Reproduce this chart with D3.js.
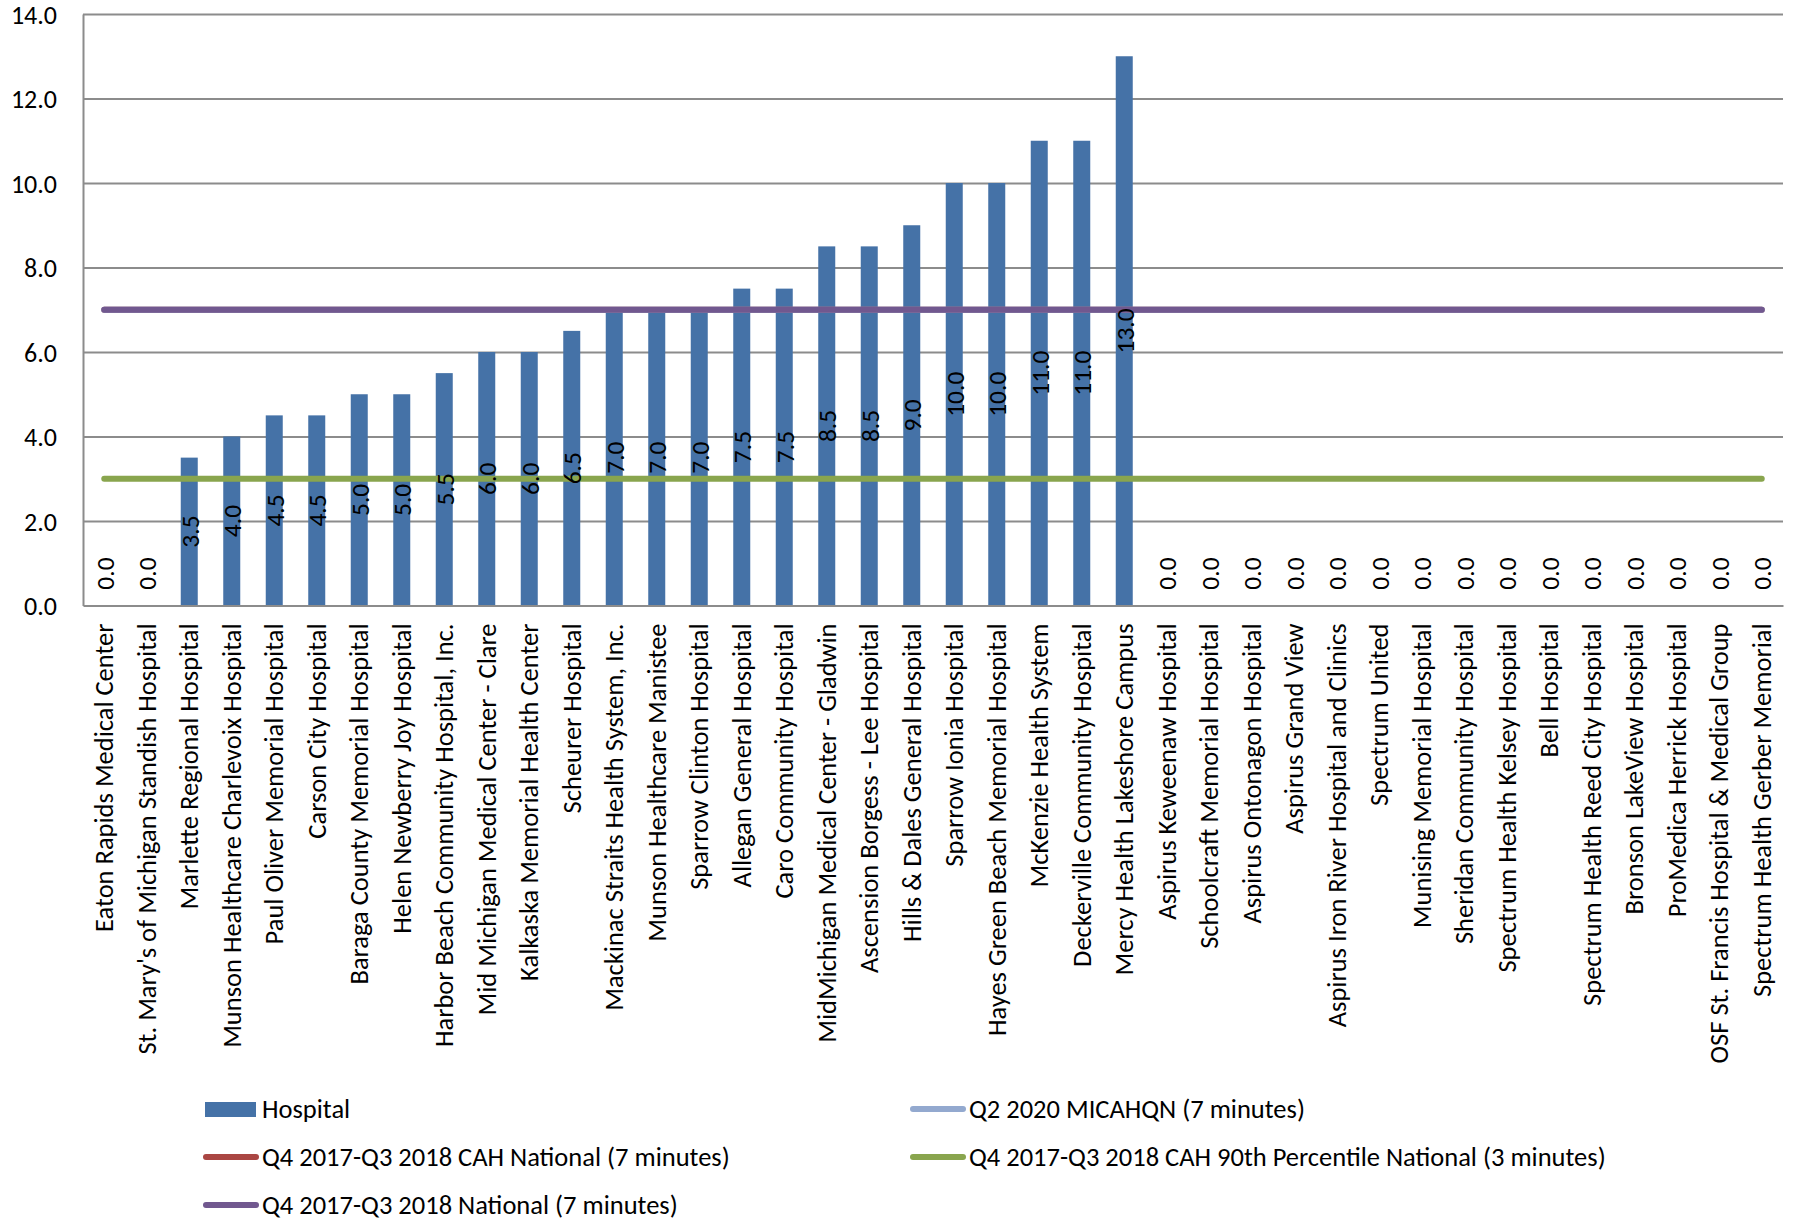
<!DOCTYPE html>
<html>
<head>
<meta charset="utf-8">
<script src="https://cdn.jsdelivr.net/npm/d3@7"></script>
<style>
  html, body { margin: 0; padding: 0; background: #fff; }
  text { font-family: Carlito, Calibri, Lato, sans-serif; fill: #000; }
</style>
</head>
<body>
<svg id="chart" width="1793" height="1221"></svg>
<script>
const categories = [
  "Eaton Rapids Medical Center",
  "St. Mary's of Michigan Standish Hospital",
  "Marlette Regional Hospital",
  "Munson Healthcare Charlevoix Hospital",
  "Paul Oliver Memorial Hospital",
  "Carson City Hospital",
  "Baraga County Memorial Hospital",
  "Helen Newberry Joy Hospital",
  "Harbor Beach Community Hospital, Inc.",
  "Mid Michigan Medical Center - Clare",
  "Kalkaska Memorial Health Center",
  "Scheurer Hospital",
  "Mackinac Straits Health System, Inc.",
  "Munson Healthcare Manistee",
  "Sparrow Clinton Hospital",
  "Allegan General Hospital",
  "Caro Community Hospital",
  "MidMichigan Medical Center - Gladwin",
  "Ascension Borgess - Lee Hospital",
  "Hills & Dales General Hospital",
  "Sparrow Ionia Hospital",
  "Hayes Green Beach Memorial Hospital",
  "McKenzie Health System",
  "Deckerville Community Hospital",
  "Mercy Health Lakeshore Campus",
  "Aspirus Keweenaw Hospital",
  "Schoolcraft Memorial Hospital",
  "Aspirus Ontonagon Hospital",
  "Aspirus Grand View",
  "Aspirus Iron River Hospital and Clinics",
  "Spectrum United",
  "Munising Memorial Hospital",
  "Sheridan Community Hospital",
  "Spectrum Health Kelsey Hospital",
  "Bell Hospital",
  "Spectrum Health Reed City Hospital",
  "Bronson LakeView Hospital",
  "ProMedica Herrick Hospital",
  "OSF St. Francis Hospital & Medical Group",
  "Spectrum Health Gerber Memorial"
];
const hospitalValues = [
  0, 0, 3.5, 4.0, 4.5, 4.5, 5.0, 5.0, 5.5, 6.0,
  6.0, 6.5, 7.0, 7.0, 7.0, 7.5, 7.5, 8.5, 8.5, 9.0,
  10.0, 10.0, 11.0, 11.0, 13.0, 0, 0, 0, 0, 0,
  0, 0, 0, 0, 0, 0, 0, 0, 0, 0
];
const micahqnValue = 7;        // Q2 2020 MICAHQN (7 minutes)
const cahNationalValue = 7;    // Q4 2017-Q3 2018 CAH National (7 minutes)
const cah90thValue = 3;        // Q4 2017-Q3 2018 CAH 90th Percentile National (3 minutes)
const nationalValue = 7;       // Q4 2017-Q3 2018 National (7 minutes)
const yTicks = [0, 2, 4, 6, 8, 10, 12, 14];

const seriesNames = {
  hospital: "Hospital",
  micahqn: "Q2 2020 MICAHQN (7 minutes)",
  cahNational: "Q4 2017-Q3 2018 CAH National (7 minutes)",
  cah90: "Q4 2017-Q3 2018 CAH 90th Percentile National (3 minutes)",
  national: "Q4 2017-Q3 2018 National (7 minutes)"
};

const colors = {
  bar: "#4572A7",
  red: "#AA4643",
  lightBlue: "#93A9CF",
  purple: "#71588F",
  green: "#89A54E",
  grid: "#8C8C8C"
};

const svg = d3.select("#chart");
const margin = { left: 83, top: 14 };
const plotRight = 1783;
const plotBottom = 605.5;

const x = d3.scaleBand().domain(categories).range([margin.left, plotRight]).paddingInner(0).paddingOuter(0);
const y = d3.scaleLinear().domain([0, 14]).range([plotBottom, margin.top]);
const barW = x.bandwidth() * 0.4;

// gridlines
const grid = svg.append("g")
  .attr("transform", `translate(${margin.left},0)`)
  .call(d3.axisLeft(y).tickValues(yTicks.filter(v => v > 0)).tickSize(-(plotRight - margin.left)).tickFormat(""));
grid.select(".domain").remove();
grid.selectAll("line").attr("stroke", colors.grid).attr("stroke-width", 2);

// y axis labels
const yAxis = svg.append("g")
  .attr("transform", `translate(${margin.left},0)`)
  .call(d3.axisLeft(y).tickValues(yTicks).tickSize(0).tickPadding(26).tickFormat(d3.format(".1f")));
yAxis.select(".domain").attr("stroke", colors.grid).attr("stroke-width", 2);
yAxis.selectAll("text").style("font-size", "26px").attr("fill", "#000").attr("dy", "0.35em");

// bars
svg.append("g").selectAll("rect")
  .data(categories.map((c, i) => ({ c, v: hospitalValues[i] })))
  .join("rect")
  .attr("x", d => x(d.c) + (x.bandwidth() - barW) / 2)
  .attr("width", barW)
  .attr("y", d => y(d.v))
  .attr("height", d => y(0) - y(d.v))
  .attr("fill", colors.bar);

// x axis
const xAxis = svg.append("g")
  .attr("transform", `translate(0,${plotBottom})`)
  .call(d3.axisBottom(x).tickSize(0).tickPadding(0));
xAxis.select(".domain").attr("stroke", colors.grid).attr("stroke-width", 2);
xAxis.selectAll("text")
  .style("font-size", "26.5px")
  .attr("text-anchor", "end")
  .attr("dominant-baseline", "central")
  .attr("dy", null)
  .attr("y", 0)
  .attr("transform", "translate(0,18) rotate(-90)");

// reference lines
const lineSeries = [
  { key: "cahNational", v: cahNationalValue, color: colors.red },
  { key: "micahqn", v: micahqnValue, color: colors.lightBlue },
  { key: "national", v: nationalValue, color: colors.purple },
  { key: "cah90", v: cah90thValue, color: colors.green }
];
const line = d3.line().x(d => x(d.c) + x.bandwidth() / 2).y(d => y(d.v));
svg.append("g").selectAll("path")
  .data(lineSeries)
  .join("path")
  .attr("d", s => line(categories.map(c => ({ c, v: s.v }))))
  .attr("fill", "none")
  .attr("stroke", s => s.color)
  .attr("stroke-width", 6)
  .attr("stroke-linecap", "round");

// data labels (drawn above the lines)
svg.append("g").selectAll("text")
  .data(categories.map((c, i) => ({ c, v: hospitalValues[i] })))
  .join("text")
  .attr("transform", d => {
    const cx = x(d.c) + x.bandwidth() / 2 + 1;
    const cy = d.v === 0 ? y(0) - 32 : (y(d.v) + y(0)) / 2;
    return `translate(${cx},${cy}) rotate(-90)`;
  })
  .attr("text-anchor", "middle")
  .attr("dominant-baseline", "central")
  .style("font-size", "25.5px")
  .text(d => d3.format(".1f")(d.v));

// legend
const legendItems = [
  { key: "hospital", type: "bar", color: colors.bar, col: 0, row: 0 },
  { key: "micahqn", type: "line", color: colors.lightBlue, col: 1, row: 0 },
  { key: "cahNational", type: "line", color: colors.red, col: 0, row: 1 },
  { key: "cah90", type: "line", color: colors.green, col: 1, row: 1 },
  { key: "national", type: "line", color: colors.purple, col: 0, row: 2 }
];
const colX = [204, 911];
const rowY = [1109, 1157, 1205];
const lg = svg.append("g").selectAll("g").data(legendItems).join("g")
  .attr("transform", d => `translate(${colX[d.col]},${rowY[d.row]})`);
lg.filter(d => d.type === "bar").append("rect")
  .attr("x", 1).attr("y", -7).attr("width", 51).attr("height", 15).attr("fill", d => d.color);
lg.filter(d => d.type === "line").append("line")
  .attr("x1", 2).attr("x2", 52).attr("y1", 0).attr("y2", 0)
  .attr("stroke", d => d.color).attr("stroke-width", 6).attr("stroke-linecap", "round");
lg.append("text")
  .attr("x", 58).attr("y", 0)
  .attr("dominant-baseline", "central")
  .style("font-size", "26.5px")
  .text(d => seriesNames[d.key]);
</script>
</body>
</html>
